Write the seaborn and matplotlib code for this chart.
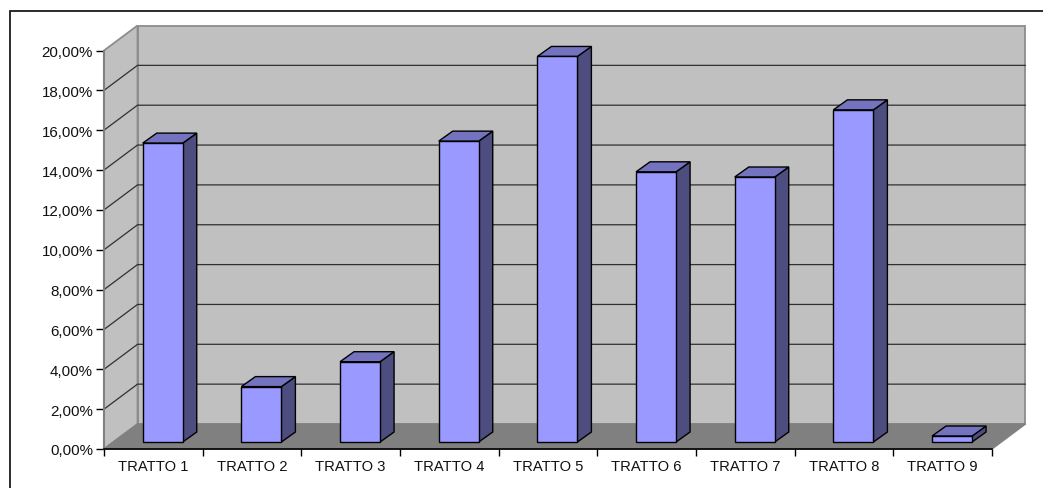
import numpy as np
import pandas as pd
import matplotlib
matplotlib.use("Agg")
import matplotlib.pyplot as plt
from matplotlib.lines import Line2D
from matplotlib.patches import Polygon
import seaborn as sns

categories = ["TRATTO 1", "TRATTO 2", "TRATTO 3", "TRATTO 4", "TRATTO 5",
              "TRATTO 6", "TRATTO 7", "TRATTO 8", "TRATTO 9"]
values = [15.0, 2.78, 4.03, 15.1, 19.35, 13.56, 13.3, 16.67, 0.3]
y_ticks = [0, 2, 4, 6, 8, 10, 12, 14, 16, 18, 20]

W, H = 1043, 489
sns.set_theme(style="white")
plt.rcParams["font.family"] = ["Liberation Sans", "DejaVu Sans"]

fig = plt.figure(figsize=(W / 100, H / 100), dpi=100, facecolor="white")
L, R, T, B = 104, 992, 51.5, 450
ax = fig.add_axes([L / W, 1 - B / H, (R - L) / W, (B - T) / H])
ax.patch.set_visible(False)

df = pd.DataFrame({"cat": categories, "val": values})
bw_px, bar_depth_x, bar_depth_y = 40, 14, 10
cat_px = (R - L) / len(categories)
unit_px = (B - T) / 20
sns.barplot(data=df, x="cat", y="val", color="#9999FF", saturation=1,
            width=bw_px / cat_px, edgecolor="black", linewidth=1, ax=ax, zorder=5)
ax.set_xlim(-0.5, len(categories) - 0.5)
ax.set_ylim(0, 20)
ax.set_xlabel("")
ax.set_ylabel("")

# conversion of the pseudo-3D depths to data units
wall_dx, wall_dy = 33.5 / cat_px, 25 / unit_px
shift_x, shift_y = 9.4 / cat_px, 7 / unit_px
bdx, bdy = bar_depth_x / cat_px, bar_depth_y / unit_px
x0, x1 = ax.get_xlim()

def poly(pts, fc, ec, lw=1, z=1):
    ax.add_patch(Polygon(pts, closed=True, facecolor=fc, edgecolor=ec,
                         linewidth=lw, zorder=z, clip_on=False, joinstyle="miter"))

# back wall, side wall, floor
poly([(x0 + wall_dx, wall_dy), (x1 + wall_dx, wall_dy),
      (x1 + wall_dx, 20 + wall_dy), (x0 + wall_dx, 20 + wall_dy)], "#C0C0C0", "#8C8C8C", 1.3)
poly([(x0, 0), (x0 + wall_dx, wall_dy), (x0 + wall_dx, 20 + wall_dy), (x0, 20)],
     "#C0C0C0", "#8C8C8C", 1.3)
poly([(x0, 0), (x1, 0), (x1 + wall_dx, wall_dy), (x0 + wall_dx, wall_dy)],
     "#808080", "#808080", 1)

for v in y_ticks[1:-1]:
    ax.plot([x0, x0 + wall_dx, x1 + wall_dx], [v, v + wall_dy, v + wall_dy],
            color="#303030", lw=0.9, zorder=2, clip_on=False, solid_joinstyle="miter")

# the bars: shift onto the floor, add top and side faces
for p in ax.patches:
    if not hasattr(p, "get_width"):
        continue
    h = p.get_height()
    x = p.get_x() + shift_x
    w = p.get_width()
    p.set_x(x)
    p.set_y(shift_y)
    p.set_clip_on(False)
    top = shift_y + h
    poly([(x + w, shift_y), (x + w + bdx, shift_y + bdy), (x + w + bdx, top + bdy), (x + w, top)],
         "#4D4D80", "black", 1, 4)
    poly([(x, top), (x + bdx, top + bdy), (x + w + bdx, top + bdy), (x + w, top)],
         "#7373BF", "black", 1, 4)

# axes dressing
for s in ("top", "right"):
    ax.spines[s].set_visible(False)
ax.spines["left"].set_color("#808080")
ax.spines["left"].set_linewidth(1.5)
ax.spines["bottom"].set_color("black")
ax.spines["bottom"].set_linewidth(1.2)
ax.spines["bottom"].set_zorder(6)

ax.set_yticks(y_ticks)
ax.set_yticklabels([f"{v:.2f}%".replace(".", ",") for v in y_ticks], fontsize=10.9, color="#111111")
ax.tick_params(axis="y", left=True, length=6, width=1, color="black", pad=2)
ax.set_xticks(range(len(categories)))
ax.set_xticklabels(categories, fontsize=10.6, color="#111111")
ax.tick_params(axis="x", which="major", bottom=False, length=0, pad=7.5)
ax.set_xticks(np.arange(len(categories) + 1) - 0.5, minor=True)
ax.tick_params(axis="x", which="minor", bottom=True, length=5, width=1, color="black")

# outer frame: left and top only
fig.add_artist(Line2D([9.5 / W, 9.5 / W, 1], [0, 1 - 11.5 / H, 1 - 11.5 / H],
                      color="#1A1A1A", lw=1.3, solid_joinstyle="miter"))

fig.savefig("out.png", dpi=100, facecolor="white")
